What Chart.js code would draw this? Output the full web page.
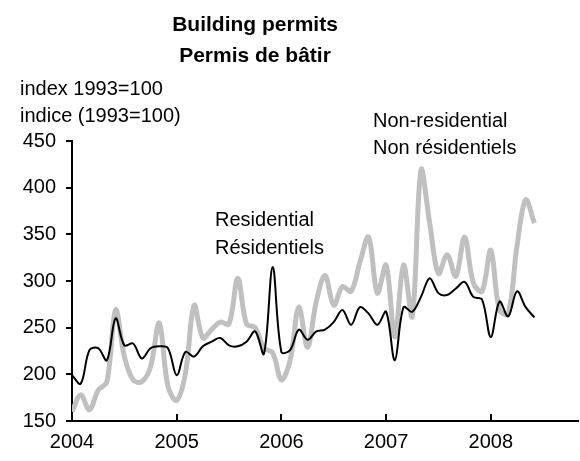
<!DOCTYPE html>
<html>
<head>
<meta charset="utf-8">
<script src="https://cdn.jsdelivr.net/npm/chart.js@4"></script>
<style>
  html, body { margin: 0; padding: 0; background: #fff; }
  #wrap { width: 580px; height: 461px; }
</style>
</head>
<body>
<div id="wrap"><canvas id="c" width="580" height="461"></canvas></div>
<script>
// Monthly building permit indices (1993=100), January 2004 to June 2008
const nonResidential = [
  160, 178, 162, 183, 192, 269, 219, 194, 192, 208, 255, 187,
  172, 201, 274, 239, 248, 256, 254, 303, 254, 250, 228, 223,
  194, 215, 272, 229, 278, 306, 274, 294, 289, 320, 347, 287,
  317, 240, 317, 262, 419, 362, 308, 328, 305, 347, 298, 289,
  333, 269, 265, 337, 387, 362
];
const residential = [
  199, 190, 226, 228, 215, 260, 231, 233, 217, 228, 230, 228,
  199, 224, 219, 230, 235, 239, 231, 230, 235, 246, 222, 315,
  224, 226, 248, 237, 246, 248, 256, 269, 253, 272, 265, 253,
  267, 215, 272, 267, 283, 303, 287, 285, 292, 299, 283, 280,
  240, 278, 262, 289, 272, 261
];
const yearLabels = ['2004', '2005', '2006', '2007', '2008'];
const yearTickMonths = [0, 12, 24, 36, 48];
const titleLines = ['Building permits', 'Permis de bâtir'];
const unitLines = ['index 1993=100', 'indice (1993=100)'];
const nonResLabel = ['Non-residential', 'Non résidentiels'];
const resLabel = ['Residential', 'Résidentiels'];

const FONT = "'Liberation Sans', Arial, Helvetica, sans-serif";

const toPoints = arr => arr.map((v, i) => ({ x: i, y: v }));

// Titles, unit caption, series captions and inward x-axis tick marks
const decorations = {
  id: 'decorations',
  afterDraw(chart) {
    const ctx = chart.ctx;
    const xs = chart.scales.x;
    ctx.save();
    ctx.fillStyle = '#000';
    ctx.textBaseline = 'middle';

    ctx.font = 'bold 21px ' + FONT;
    ctx.textAlign = 'center';
    ctx.fillText(titleLines[0], 255, 25);
    ctx.fillText(titleLines[1], 255, 56);

    ctx.font = '20px ' + FONT;
    ctx.textAlign = 'left';
    ctx.fillText(unitLines[0], 20, 89);
    ctx.fillText(unitLines[1], 20, 116);

    ctx.fillText(nonResLabel[0], 373, 121);
    ctx.fillText(nonResLabel[1], 373, 148);

    ctx.fillText(resLabel[0], 215, 220);
    ctx.fillText(resLabel[1], 215, 248);

    // tick marks pointing up from the x axis
    ctx.strokeStyle = '#000';
    ctx.lineWidth = 2;
    const yb = xs.top;
    yearTickMonths.forEach(m => {
      const px = Math.round(xs.getPixelForValue(m));
      ctx.beginPath();
      ctx.moveTo(px, yb);
      ctx.lineTo(px, yb - 7);
      ctx.stroke();
    });
    ctx.restore();
  }
};

new Chart(document.getElementById('c'), {
  type: 'line',
  data: {
    datasets: [
      {
        label: resLabel[0],
        data: toPoints(residential),
        borderColor: '#000000',
        borderWidth: 2,
        pointRadius: 0,
        tension: 0.35,
        fill: false
      },
      {
        label: nonResLabel[0],
        data: toPoints(nonResidential),
        borderColor: '#c0c0c0',
        borderWidth: 5,
        pointRadius: 0,
        tension: 0.35,
        fill: false
      }
    ]
  },
  options: {
    responsive: false,
    animation: false,
    layout: { padding: { top: 141, right: 2, left: 0, bottom: 0 } },
    plugins: {
      legend: { display: false },
      title: { display: false },
      tooltip: { enabled: false }
    },
    scales: {
      x: {
        type: 'linear',
        min: 0,
        max: 58,
        afterBuildTicks: s => { s.ticks = yearTickMonths.map(v => ({ value: v })); },
        afterFit: s => { s.height = 40; },
        border: { color: '#000', width: 2 },
        grid: { drawOnChartArea: false, drawTicks: false },
        ticks: {
          autoSkip: false,
          maxRotation: 0,
          padding: 9,
          color: '#000',
          font: { family: FONT, size: 20 },
          callback: v => yearLabels[yearTickMonths.indexOf(v)]
        }
      },
      y: {
        min: 150,
        max: 450,
        afterFit: s => { s.width = 72; },
        border: { color: '#000', width: 2 },
        grid: { drawOnChartArea: false, drawTicks: true, tickLength: 6, color: '#000', lineWidth: 2 },
        ticks: {
          stepSize: 50,
          padding: 10,
          color: '#000',
          font: { family: FONT, size: 20 }
        }
      }
    }
  },
  plugins: [decorations]
});
</script>
</body>
</html>
